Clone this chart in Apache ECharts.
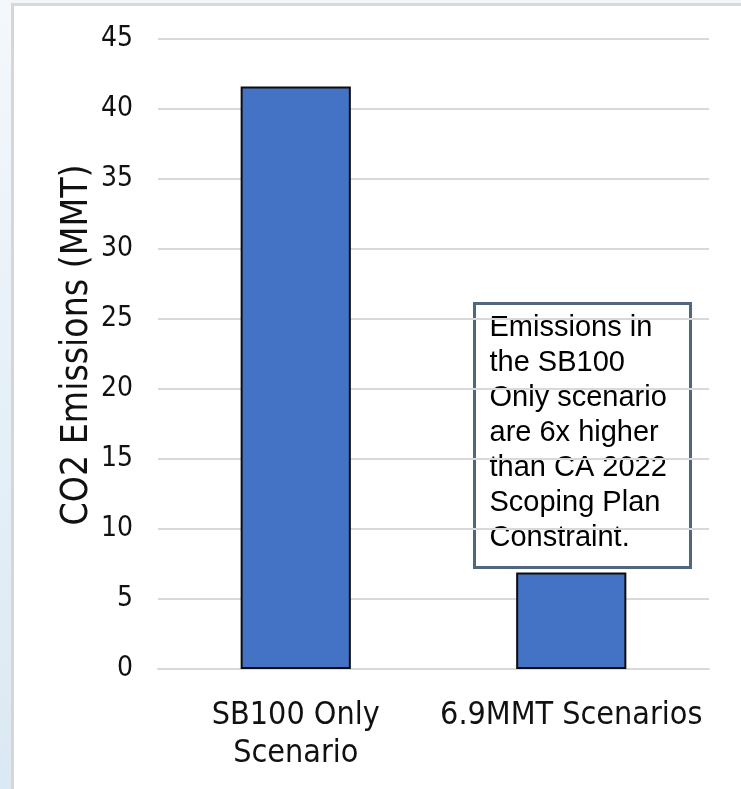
<!DOCTYPE html>
<html>
<head>
<meta charset="utf-8">
<script src="https://cdn.jsdelivr.net/npm/echarts@6/dist/echarts.min.js"></script>
<style>
  html, body { margin: 0; padding: 0; width: 741px; height: 789px; overflow: hidden; background: #ffffff; }
  #strip { position: absolute; left: 0; top: 0; width: 11px; height: 789px;
           background: linear-gradient(to bottom, #f4f8fb 0%, #e6f0f7 50%, #dbe9f4 100%); }
  #panel { position: absolute; left: 11px; top: 3px; width: 740px; height: 800px;
           border-left: 3px solid #d6d6d6; border-top: 3px solid #d9d9d9; background: #ffffff; }
  #topstrip { position: absolute; left: 0; top: 0; width: 741px; height: 3px; background: #f3f6f8; }
  #chart { position: absolute; left: 0; top: 0; width: 741px; height: 789px; }
</style>
</head>
<body>
<div id="topstrip"></div>
<div id="strip"></div>
<div id="panel"></div>
<div id="chart"></div>
<script>
const categories = ["SB100 Only\nScenario", "6.9MMT Scenarios"];
const emissions = [41.6, 6.9];
const yTicks = { min: 0, max: 45, interval: 5 };
const yAxisTitle = "CO2 Emissions (MMT)";
const noteLines = ["Emissions in", "the SB100", "Only scenario", "are 6x higher", "than CA 2022", "Scoping Plan", "Constraint."];

const condensed = '"DejaVu Sans Condensed", "Liberation Sans Narrow", "DejaVu Sans", sans-serif';
const chart = echarts.init(document.getElementById('chart'), null, { renderer: 'canvas' });
chart.setOption({
  backgroundColor: 'transparent',
  animation: false,
  grid: { left: 158, right: 32, top: 39, bottom: 120, containLabel: false },
  xAxis: {
    type: 'category',
    data: categories,
    axisLine: { show: true, lineStyle: { color: '#d9d9d9', width: 2 } },
    axisTick: { show: false },
    axisLabel: { color: '#111111', fontFamily: condensed, fontSize: 32, lineHeight: 38, margin: 28,
                 interval: 0, hideOverlap: false }
  },
  yAxis: {
    type: 'value',
    min: yTicks.min, max: yTicks.max, interval: yTicks.interval,
    name: yAxisTitle,
    nameLocation: 'middle',
    nameGap: 62,
    nameMoveOverlap: false,
    nameRotate: 90,
    nameTextStyle: { color: '#111111', fontFamily: condensed, fontSize: 37, padding: [0, 0, 0, 18] },
    axisLine: { show: false },
    axisTick: { show: false },
    axisLabel: { color: '#111111', fontFamily: condensed, fontSize: 28, margin: 25 },
    splitLine: { show: true, lineStyle: { color: '#d9d9d9', width: 2 } }
  },
  series: [{
    type: 'bar',
    data: emissions,
    barWidth: '40%',
    itemStyle: { color: '#4472C4', borderColor: '#0d0d0d', borderWidth: 2 }
  }],
  graphic: [{
    type: 'group',
    left: 473, top: 302,
    children: [
      { type: 'rect', shape: { x: 0, y: 0, width: 216, height: 264 },
        style: { fill: '#ffffff', stroke: '#52667e', lineWidth: 3 } },
      { type: 'text', x: 15, y: 7,
        style: { text: noteLines.join('\n'), fill: '#000000', font: '29px "Liberation Sans", Arial, sans-serif', lineHeight: 35 } }
    ]
  }]
});
</script>
</body>
</html>
